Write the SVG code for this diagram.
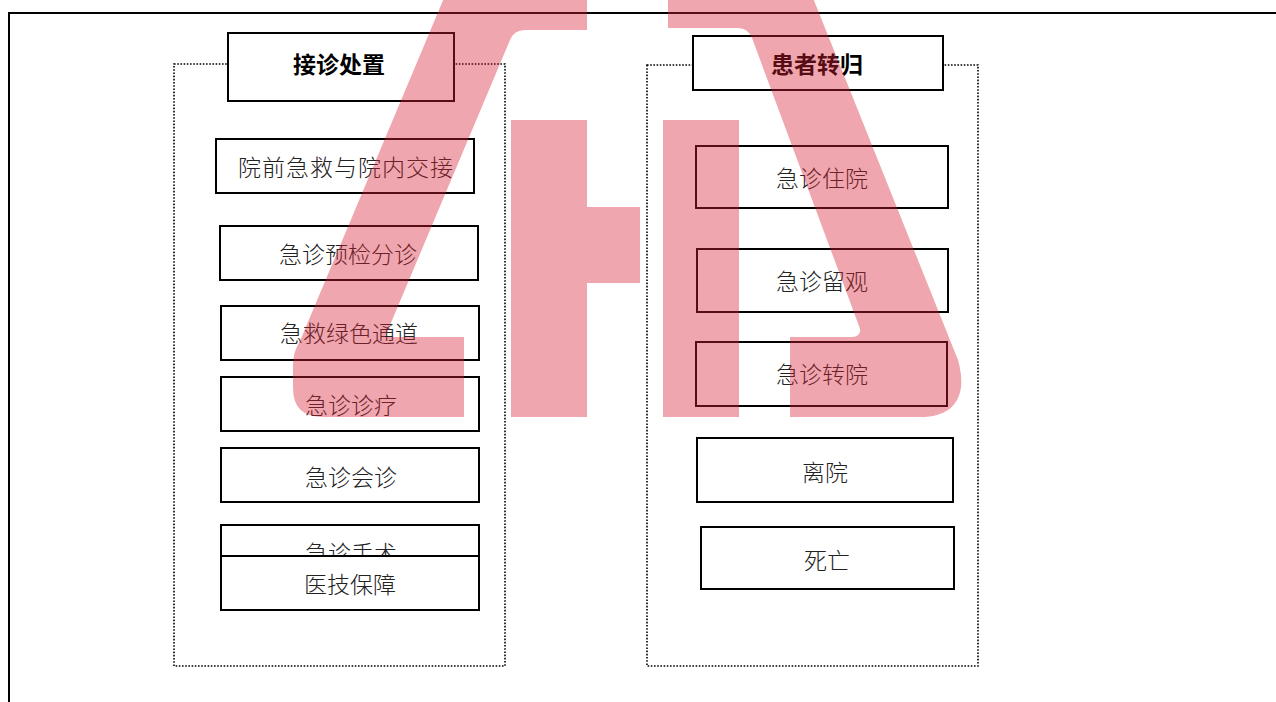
<svg xmlns="http://www.w3.org/2000/svg" width="1276" height="702" viewBox="0 0 1276 702">
<style>
.frame{fill:none;stroke:#000;stroke-width:2}
.group{fill:none;stroke:#000;stroke-width:1.6;stroke-dasharray:1.6 1.6}
.box{fill:#fff;stroke:#000;stroke-width:2}
.t{font-family:"Noto Sans CJK SC","Liberation Sans",sans-serif;font-size:23px;font-weight:300;fill:#222}
.h{font-family:"Noto Sans CJK SC","Liberation Sans",sans-serif;font-size:23px;font-weight:700;fill:#000}
.wm{fill:rgb(215,32,52);fill-opacity:0.4}
</style>
<rect width="1276" height="702" fill="#fff"/>
<path class="frame" d="M9,703 L9,13 L1277,13"/>
<g id="group-left"><rect class="group" x="174" y="64" width="331" height="602"/></g>
<g id="group-right"><rect class="group" x="647" y="65" width="331" height="601"/></g>
<g id="connectors"/>
<g id="title-left"><rect class="box" x="228" y="33" width="226" height="68"/><text class="h" x="293" y="73">接诊处置</text></g>
<g id="title-right"><rect class="box" x="693" y="36" width="250" height="54"/><text class="h" x="771" y="73">患者转归</text></g>
<g id="n-prehospital"><rect class="box" x="216" y="139" width="258" height="54"/><text class="t" x="238" y="176" textLength="215" lengthAdjust="spacing">院前急救与院内交接</text></g>
<g id="n-triage"><rect class="box" x="220" y="226" width="258" height="54"/><text class="t" x="279" y="263">急诊预检分诊</text></g>
<g id="n-green"><rect class="box" x="221" y="306" width="258" height="54"/><text class="t" x="280" y="342">急救绿色通道</text></g>
<g id="n-treat"><rect class="box" x="221" y="377" width="258" height="54"/><text class="t" x="305" y="414">急诊诊疗</text></g>
<g id="n-consult"><rect class="box" x="221" y="448" width="258" height="54"/><text class="t" x="305" y="486">急诊会诊</text></g>
<g id="n-surgery"><rect class="box" x="221" y="525" width="258" height="54"/><text class="t" x="305" y="562">急诊手术</text></g>
<g id="n-support"><rect class="box" x="221" y="556" width="258" height="54"/><text class="t" x="304" y="593">医技保障</text></g>
<g id="n-admit"><rect class="box" x="696" y="146" width="252" height="62"/><text class="t" x="776" y="187">急诊住院</text></g>
<g id="n-observe"><rect class="box" x="697" y="249" width="251" height="63"/><text class="t" x="776" y="290">急诊留观</text></g>
<g id="n-transfer"><rect class="box" x="696" y="342" width="251" height="64"/><text class="t" x="776" y="383">急诊转院</text></g>
<g id="n-discharge"><rect class="box" x="697" y="438" width="256" height="64"/><text class="t" x="802" y="481">离院</text></g>
<g id="n-death"><rect class="box" x="701" y="527" width="253" height="62"/><text class="t" x="804" y="569">死亡</text></g>
<g id="watermark">
<path class="wm" d="M444,-2 L587,-2 L587,30 L525,30 Q514,30 510,40 L385,337 L464,337 L464,417 L323,417 Q293,417 293,388 L293,365 Q293,352 300,341 Z"/>
<path class="wm" d="M511,120 L587,120 L587,207 L640,207 L640,283 L587,283 L587,417 L511,417 Z"/>
<rect class="wm" x="663" y="120" width="76" height="297"/>
<path class="wm" d="M668,-2 L813,-2 L958,360 C968,395 955,415 925,417 L790,417 L790,337 L852,337 Q863,336 859,326 L752,38 Q748,28 738,28 L668,28 Z"/>
</g>
</svg>
